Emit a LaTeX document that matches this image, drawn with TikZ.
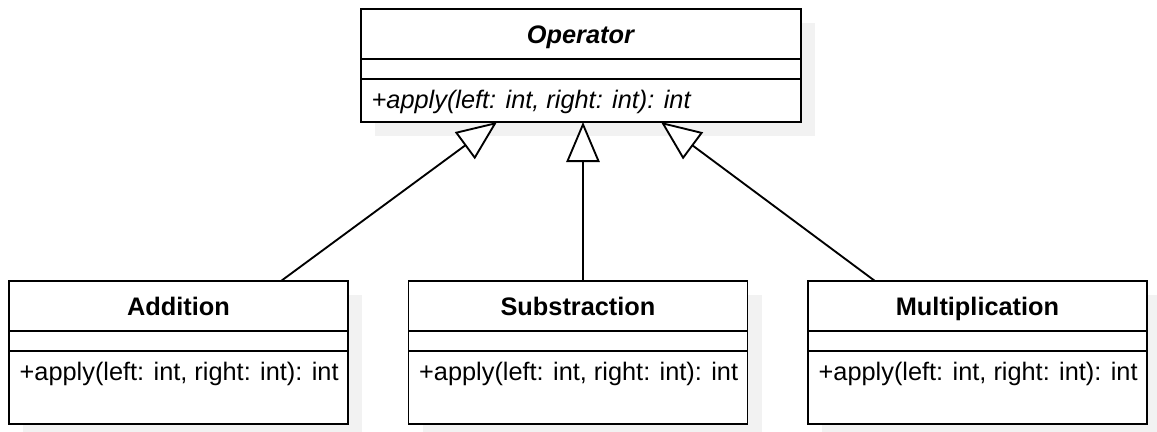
\documentclass[tikz,border=0pt]{standalone}
\usepackage{fontspec}
\setmainfont{Liberation Sans}
\definecolor{shadowgray}{RGB}{242, 242, 242}
\usetikzlibrary{arrows.meta,positioning,shadows}

\begin{document}
\begin{tikzpicture}[x=0.75pt, y=-0.75pt, line width=1.4pt,
    font=\fontsize{19pt}{23pt}\selectfont,
    classbox/.style={rectangle, draw, fill=white, inner sep=0pt, outer sep=0pt, minimum width=#1, drop shadow={shadow xshift=10.5pt, shadow yshift=-10.5pt, fill=shadowgray, opacity=1}},
    classhead/.style={rectangle, draw, inner sep=0pt, outer sep=0pt, text height=17pt, text depth=3pt, minimum width=#1, minimum height=37.5pt},
    classattr/.style={rectangle, draw, inner sep=0pt, outer sep=0pt, minimum width=#1, minimum height=15pt},
    classops/.style={rectangle, inner xsep=8pt, inner ysep=0pt, outer sep=0pt, text height=17pt, text depth=3pt, minimum height=30pt, anchor=north west},
    inherits/.style={-{Triangle[open, length=30pt, width=25pt, fill=white]}}]
    \useasboundingbox (0,0) rectangle (1157,432);

    \node[classbox=330pt, minimum height=84.75pt] (operator) at (581,65.5) {};
    \node[classhead=330pt, below=0pt of operator.north] (operatorname) {\textbf{\textit{Operator}}};
    \node[classattr=330pt, below=0pt of operatorname] (operatorattr) {};
    \node[classops, at=(operatorattr.south west)] (operatorops) {\textit{+apply(left: int, right: int): int}};

    \node[classbox=254.25pt, minimum height=107.25pt] (addition) at (178.5,352.5) {};
    \node[classhead=254.25pt, below=0pt of addition.north] (additionname) {\textbf{Addition}};
    \node[classattr=254.25pt, below=0pt of additionname] (additionattr) {};
    \node[classops, at=(additionattr.south west)] (additionops) {+apply(left: int, right: int): int};

    \node[classbox=254.25pt, minimum height=107.25pt] (substraction) at (578,352.5) {};
    \node[classhead=254.25pt, below=0pt of substraction.north] (substractionname) {\textbf{Substraction}};
    \node[classattr=254.25pt, below=0pt of substractionname] (substractionattr) {};
    \node[classops, at=(substractionattr.south west)] (substractionops) {+apply(left: int, right: int): int};

    \node[classbox=254.25pt, minimum height=107.25pt] (multiplication) at (977.5,352.5) {};
    \node[classhead=254.25pt, below=0pt of multiplication.north] (multiplicationname) {\textbf{Multiplication}};
    \node[classattr=254.25pt, below=0pt of multiplicationname] (multiplicationattr) {};
    \node[classops, at=(multiplicationattr.south west)] (multiplicationops) {+apply(left: int, right: int): int};

    \draw[inherits] ([xshift=76.9pt]addition.north) -- ([xshift=-63pt]operator.south);
    \draw[inherits] ([xshift=3.75pt]substraction.north) -- ([xshift=1.5pt]operator.south);
    \draw[inherits] ([xshift=-76.9pt]multiplication.north) -- ([xshift=60pt]operator.south);
\end{tikzpicture}
\end{document}
